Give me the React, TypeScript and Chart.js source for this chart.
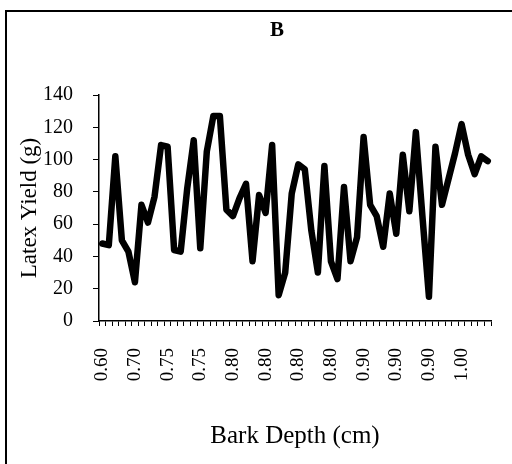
import React, { useEffect, useRef } from "react";
import { Chart, registerables } from "chart.js";

Chart.register(...registerables);

const barkDepth: string[] = [
  "0.60", "0.60", "0.65", "0.65", "0.70",
  "0.70", "0.70", "0.70", "0.75", "0.75",
  "0.75", "0.75", "0.75", "0.75", "0.75",
  "0.75", "0.75", "0.75", "0.80", "0.80",
  "0.80", "0.80", "0.80", "0.80", "0.80",
  "0.80", "0.80", "0.80", "0.80", "0.80",
  "0.80", "0.80", "0.80", "0.80", "0.80",
  "0.80", "0.80", "0.85", "0.85", "0.90",
  "0.90", "0.90", "0.90", "0.90", "0.90",
  "0.90", "0.90", "0.90", "0.90", "0.90",
  "0.90", "0.90", "0.95", "0.95", "1.00",
  "1.00", "1.00", "1.05", "1.05", "1.10",
];

const latexYield: number[] = [
  48, 47, 102, 50, 43, 24, 72, 61, 77, 109,
  108, 44, 43, 82, 112, 45, 105, 127, 127, 69,
  65, 76, 85, 37, 78, 67, 109, 16, 30, 79,
  97, 94, 56, 30, 96, 37, 26, 83, 37, 52,
  114, 72, 65, 46, 79, 54, 103, 68, 117, 65,
  15, 108, 72, 88, 104, 122, 103, 91, 102, 99,
];

const labelEvery = 5;
const panelTitle = "B";
const xTitle = "Bark Depth (cm)";
const yTitle = "Latex Yield (g)";

const SERIF = "'Liberation Serif', 'Times New Roman', serif";

const framePlugin = {
  id: "frame",
  afterDraw(chart: any) {
    const ctx = chart.ctx;
    ctx.save();
    ctx.strokeStyle = "#000";
    ctx.lineWidth = 2;
    ctx.beginPath();
    ctx.moveTo(6, chart.height);
    ctx.lineTo(6, 11);
    ctx.lineTo(chart.width, 11);
    ctx.stroke();
    ctx.fillStyle = "#000";
    ctx.font = `bold 21px ${SERIF}`;
    ctx.textAlign = "center";
    ctx.textBaseline = "middle";
    ctx.fillText(panelTitle, 277, 31);
    ctx.restore();
  },
};

export default function App() {
  const ref = useRef<HTMLCanvasElement | null>(null);
  useEffect(() => {
    if (!ref.current) return;
    const chart = new Chart(ref.current, {
      type: "line",
      data: {
        labels: barkDepth,
        datasets: [
          {
            data: latexYield,
            borderColor: "#000",
            borderWidth: 6.5,
            pointRadius: 0,
            tension: 0,
            borderJoinStyle: "round",
            borderCapStyle: "round",
            fill: false,
          },
        ],
      },
      options: {
        responsive: false,
        animation: false,
        layout: { padding: { top: 95, right: 0, bottom: 0, left: 0 } },
        plugins: { legend: { display: false }, tooltip: { enabled: false }, title: { display: false } },
        scales: {
          x: {
            type: "category",
            offset: true,
            afterFit: (s: any) => {
              s.height = 143;
              s.paddingRight = 21;
            },
            grid: {
              offset: true,
              drawOnChartArea: false,
              drawTicks: true,
              tickLength: 5,
              color: "#000",
              lineWidth: 1,
            },
            border: { display: true, color: "#000", width: 1.5 },
            ticks: {
              autoSkip: false,
              minRotation: 90,
              maxRotation: 90,
              padding: 22,
              color: "#000",
              font: { family: SERIF, size: 19 },
              callback: (_v: any, i: number) => (i % labelEvery === 0 ? barkDepth[i] : ""),
            },
            title: {
              display: true,
              text: xTitle,
              color: "#000",
              font: { family: SERIF, size: 25 },
              padding: { top: 0, bottom: 13 },
            },
          },
          y: {
            min: 0,
            max: 140,
            afterFit: (s: any) => {
              s.width = 99;
            },
            grid: {
              drawOnChartArea: false,
              drawTicks: true,
              tickLength: 6,
              color: "#000",
            },
            border: { display: true, color: "#000", width: 1.5 },
            ticks: {
              stepSize: 20,
              padding: 20,
              color: "#000",
              font: { family: SERIF, size: 20 },
            },
            title: {
              display: true,
              text: yTitle,
              color: "#000",
              font: { family: SERIF, size: 23 },
              padding: { top: 16, bottom: 0 },
            },
          },
        },
      },
      plugins: [framePlugin],
    } as any);
    return () => chart.destroy();
  }, []);
  return (
    <canvas
      ref={ref}
      width={512}
      height={464}
      style={{ position: "fixed", left: 0, top: 0, display: "block", background: "#fff" }}
    />
  );
}
